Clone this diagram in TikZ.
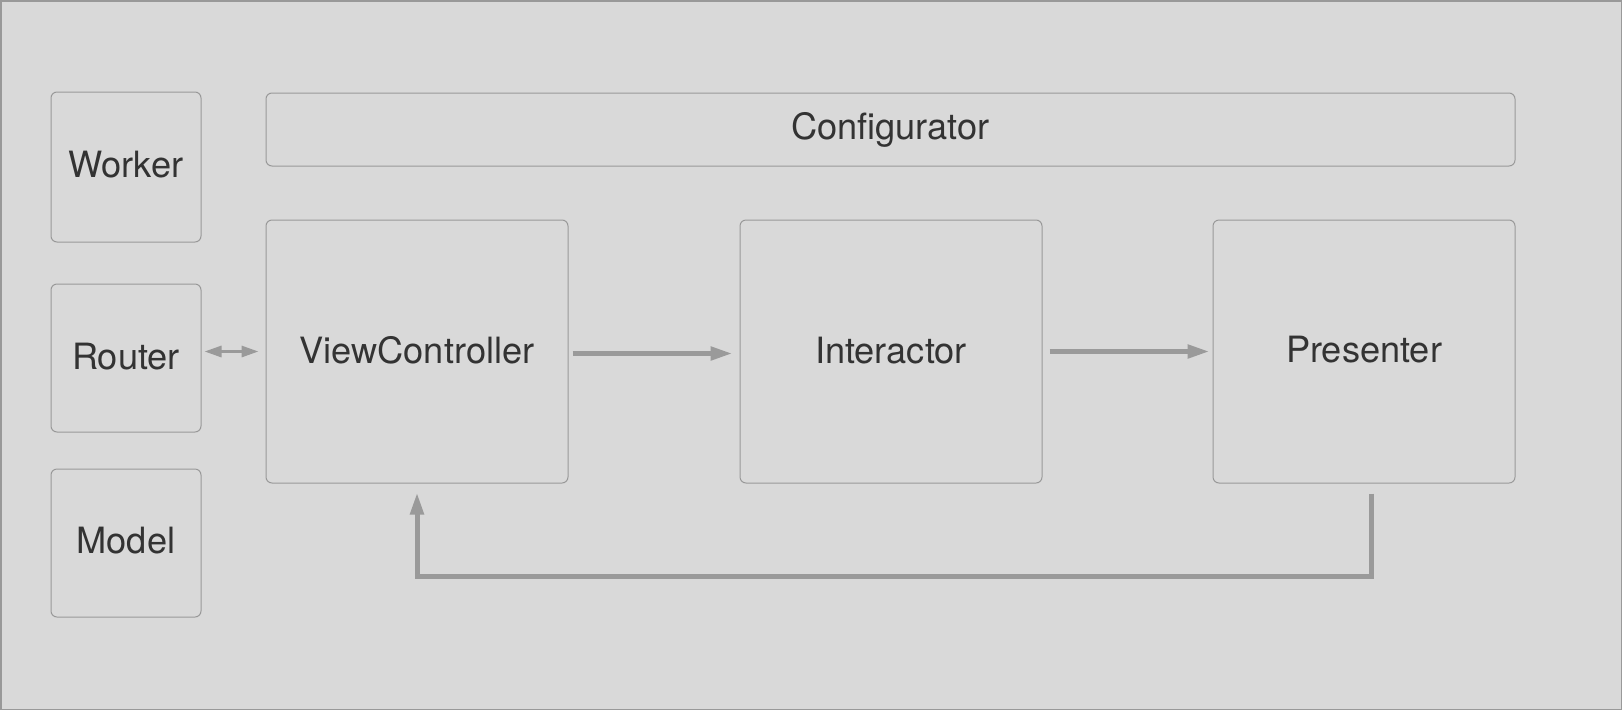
\documentclass[tikz,border=0pt]{standalone}
\usepackage{fontspec}
\setmainfont{TeX Gyre Heros}
\usetikzlibrary{arrows.meta}
\definecolor{bgc}{HTML}{D9D9D9}
\definecolor{linec}{HTML}{999999}
\definecolor{arrc}{HTML}{9A9A9A}
\definecolor{txtc}{HTML}{333333}
\begin{document}
\begin{tikzpicture}[x=1pt,y=-1pt,
  box/.style={draw=linec, line width=1pt, rounded corners=6pt, inner sep=0pt,
    text=txtc, font=\fontsize{36.2}{42}\selectfont},
  thinarrow/.style={draw=arrc, line width=3pt, {Triangle[length=17pt,width=11pt]}-{Triangle[length=17pt,width=11pt]}},
  thickarrow/.style={draw=arrc, line width=5pt, -{Triangle[length=22pt,width=13pt]}}]
\path[fill=bgc, draw=linec, line width=1.5pt] (0.75,0.75) rectangle (1621.25,709.25);
\useasboundingbox (0,0) rectangle (1622,710);
\node[box, minimum width=150pt, minimum height=150pt] (worker) at (126,167) {\raisebox{5pt}{Worker}};
\node[box, minimum width=150pt, minimum height=148pt] (router) at (126,358) {\raisebox{4pt}{Router}};
\node[box, minimum width=150pt, minimum height=148pt] (model) at (126,543) {\raisebox{5pt}{Model}};
\node[box, minimum width=1249pt, minimum height=73pt] (config) at (890.5,129.5) {\raisebox{1pt}{Configurator}};
\node[box, minimum width=302pt, minimum height=263pt] (vc) at (417,351.5) {\raisebox{3pt}{ViewController}};
\node[box, minimum width=302pt, minimum height=263pt] (int) at (891,351.5) {\raisebox{3pt}{Interactor}};
\node[box, minimum width=302pt, minimum height=263pt] (pres) at (1364,351.5) {\raisebox{4pt}{Presenter}};
\draw[thinarrow] ([xshift=3pt]router.east |- vc.west) -- ([xshift=-7pt]vc.west);
\draw[thickarrow] ([xshift=4pt,yshift=-2pt]vc.east) -- ([xshift=-7pt,yshift=-2pt]int.west);
\draw[thickarrow] ([xshift=7pt]int.east) -- ([xshift=-3pt]pres.west);
\draw[thickarrow] ([xshift=7pt,yshift=-10pt]pres.south) -- ++(0,83) -| ([yshift=-9pt]vc.south);
\end{tikzpicture}
\end{document}
